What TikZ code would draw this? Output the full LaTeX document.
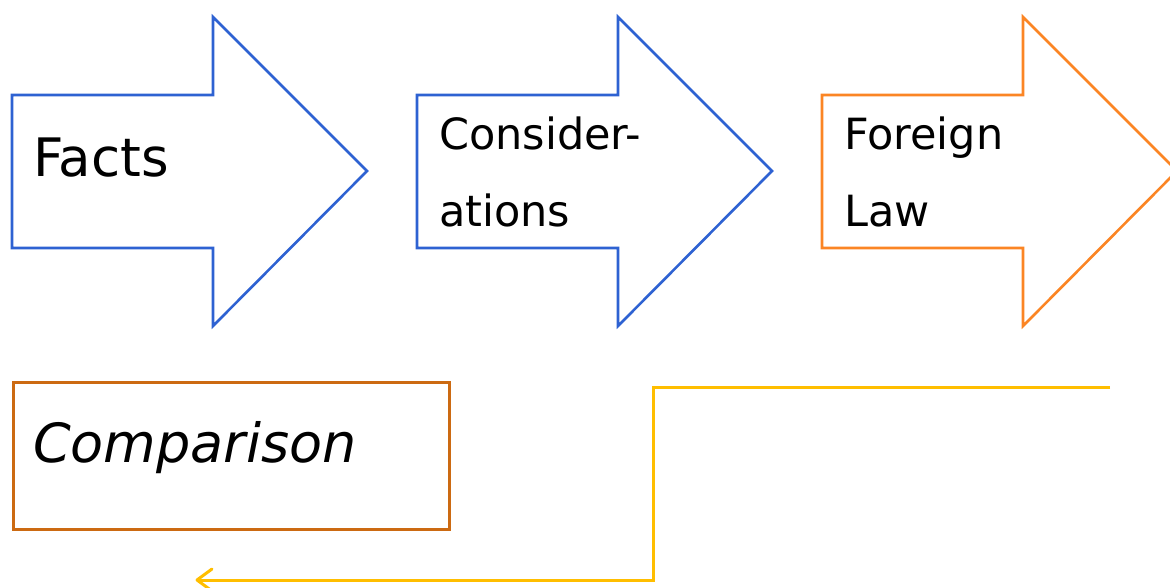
\documentclass[tikz,border=0pt]{standalone}
\usepackage{fontspec}
\setmainfont{DejaVu Sans}
\usetikzlibrary{arrows.meta}
\definecolor{arrblue}{HTML}{2E62D2}
\definecolor{arrorange}{HTML}{FB8524}
\definecolor{boxorange}{HTML}{CC6A12}
\definecolor{lineyellow}{HTML}{FFBE00}
\tikzset{
  bigarrow/.style={line width=2.6pt, line join=miter, fill=white},
  txtlabel/.style={inner sep=0pt, anchor=base west, text=black},
  bigtext/.style={txtlabel, font=\fontsize{53}{60}\selectfont},
  midtext/.style={txtlabel, font=\fontsize{43}{50}\selectfont},
  compbox/.style={draw=boxorange, line width=2.6pt, minimum width=436pt, minimum height=147pt, inner sep=0pt},
  yellowline/.style={draw=lineyellow, line width=3pt, line join=miter}
}
\newcommand{\myarrow}[2]{% #1 left x, #2 colour
  \draw[bigarrow, draw=#2] (#1,95) -- ++(201,0) -- ++(0,-78) -- ++(154,154) -- ++(-154,155) -- ++(0,-78) -- ++(-201,0) -- cycle;}
\begin{document}
\begin{tikzpicture}[x=1pt,y=-1pt]
\useasboundingbox (0,0) rectangle (1170,588);
\myarrow{12}{arrblue}
\myarrow{417}{arrblue}
\myarrow{822}{arrorange}
\node[bigtext] (facts) at (33,177) {Facts};
\node[midtext] (cons1) at (439,150) {Consider-};
\node[midtext] (cons2) at (439,227) {ations};
\node[midtext] (for1) at (844,150) {Foreign};
\node[midtext] (for2) at (844,227) {Law};
\node[compbox, anchor=north west] (comp) at (12,381) {};
\node[bigtext, font=\fontsize{54}{60}\selectfont\itshape] (comptext) at (33,462) {Comparison};
\coordinate (fstart) at (1110,387);
\coordinate (fbend1) at (653,387);
\coordinate (fbend2) at (653,580);
\coordinate (fend) at (197,580);
\draw[yellowline] (fstart) -- (fbend1) -- (fbend2) -- (fend);
\draw[yellowline, line cap=round, line join=round] ([shift={(15,-11)}]fend) -- (fend) -- ([shift={(15,11)}]fend);
\end{tikzpicture}
\end{document}
